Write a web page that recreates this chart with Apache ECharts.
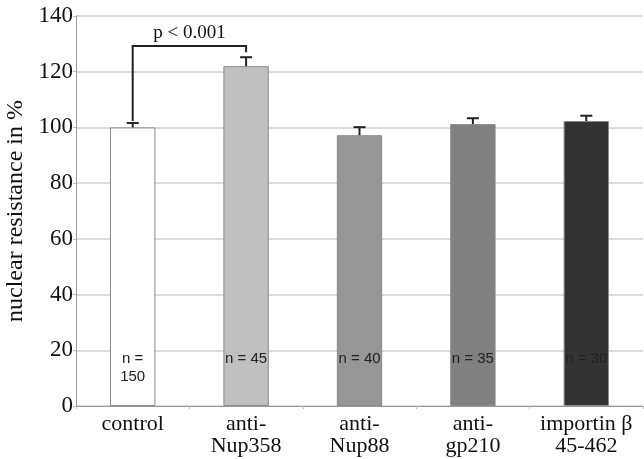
<!DOCTYPE html>
<html><head><meta charset="utf-8">
<script src="https://cdn.jsdelivr.net/npm/echarts@6/dist/echarts.min.js"></script>
<style>html,body{margin:0;padding:0;background:#fff}#c{width:644px;height:459px}</style>
</head><body><div id="c"></div>
<script>
const categories = ['control', 'anti-\nNup358', 'anti-\nNup88', 'anti-\ngp210', 'importin β\n45-462'];
const values = [100, 122, 97.2, 101.2, 102.3];
const errorTops = [101.6, 125.2, 100.1, 103.3, 104.2];
const nLabels = ['n =\n150', 'n = 45', 'n = 40', 'n = 35', 'n = 30'];
const barColors = ['#ffffff', '#c0c0c0', '#969696', '#808080', '#333333'];
const yTicks = [0, 20, 40, 60, 80, 100, 120, 140];
const bracket = { from: 0, to: 1, level: 129.2, text: 'p < 0.001' };

const chart = echarts.init(document.getElementById('c'), null, {renderer: 'canvas'});
const serif = '"Liberation Serif","Times New Roman",serif';
const sans = '"Liberation Sans",Arial,sans-serif';

chart.setOption({
  animation: false,
  grid: {left: 76, right: 1, top: 16, bottom: 53, containLabel: false, outerBoundsMode: 'none'},
  xAxis: {
    type: 'category', data: categories,
    axisLine: {lineStyle: {color: '#999', width: 1}},
    axisTick: {show: true, length: 3, lineStyle: {color: '#bbb'}},
    axisLabel: {interval: 0, hideOverlap: false, fontFamily: serif, fontSize: 22, color: '#111', lineHeight: 22, margin: 7}
  },
  yAxis: {
    type: 'value', min: 0, max: 140, interval: 20,
    name: 'nuclear resistance in %', nameLocation: 'middle', nameGap: 45, nameRotate: 90,
    nameTextStyle: {fontFamily: serif, fontSize: 24, color: '#111'},
    axisLine: {show: true, lineStyle: {color: '#999'}},
    axisTick: {show: true, length: 3, lineStyle: {color: '#bbb'}},
    axisLabel: {fontFamily: serif, fontSize: 23, color: '#111', margin: 3,
      formatter: v => yTicks.includes(v) ? String(v) : ''},
    splitLine: {lineStyle: {color: '#cfcfcf', width: 1.5}}
  },
  series: [
    {
      type: 'bar', barWidth: '40%',
      data: values.map((v, i) => ({
        value: v,
        itemStyle: {color: barColors[i], borderColor: '#8a8a8a', borderWidth: 1},
        label: {show: true, position: 'insideBottom', distance: i === 0 ? 20 : 38,
          formatter: nLabels[i], fontFamily: sans, fontSize: 15, color: '#222', lineHeight: 18}
      }))
    },
    {
      type: 'custom',
      data: errorTops.map((e, i) => [i, values[i], e]),
      renderItem: (params, api) => {
        const b = api.coord([api.value(0), api.value(1)]);
        const t = api.coord([api.value(0), api.value(2)]);
        return {type: 'group', children: [
          {type: 'line', shape: {x1: b[0], y1: b[1], x2: t[0], y2: t[1]}, style: {stroke: '#222', lineWidth: 2}},
          {type: 'line', shape: {x1: t[0] - 6, y1: t[1], x2: t[0] + 6, y2: t[1]}, style: {stroke: '#222', lineWidth: 2}}
        ]};
      },
      z: 5
    },
    {
      type: 'custom',
      data: [[bracket.from, bracket.to, bracket.level, errorTops[bracket.from], errorTops[bracket.to]]],
      renderItem: (params, api) => {
        const p1 = api.coord([api.value(0), api.value(3)]);
        const p2 = api.coord([api.value(0), api.value(2)]);
        const p3 = api.coord([api.value(1), api.value(2)]);
        const p4 = api.coord([api.value(1), api.value(4)]);
        return {type: 'group', children: [
          {type: 'polyline', shape: {points: [[p1[0], p1[1] - 2], p2, p3, [p4[0], p4[1] - 5]]},
            style: {stroke: '#222', lineWidth: 2, fill: null}},
          {type: 'text', style: {text: bracket.text, x: (p2[0] + p3[0]) / 2, y: p2[1] - 4,
            align: 'center', verticalAlign: 'bottom', font: '19px ' + serif, fill: '#111'}}
        ]};
      },
      z: 6
    }
  ]
});
</script></body></html>
